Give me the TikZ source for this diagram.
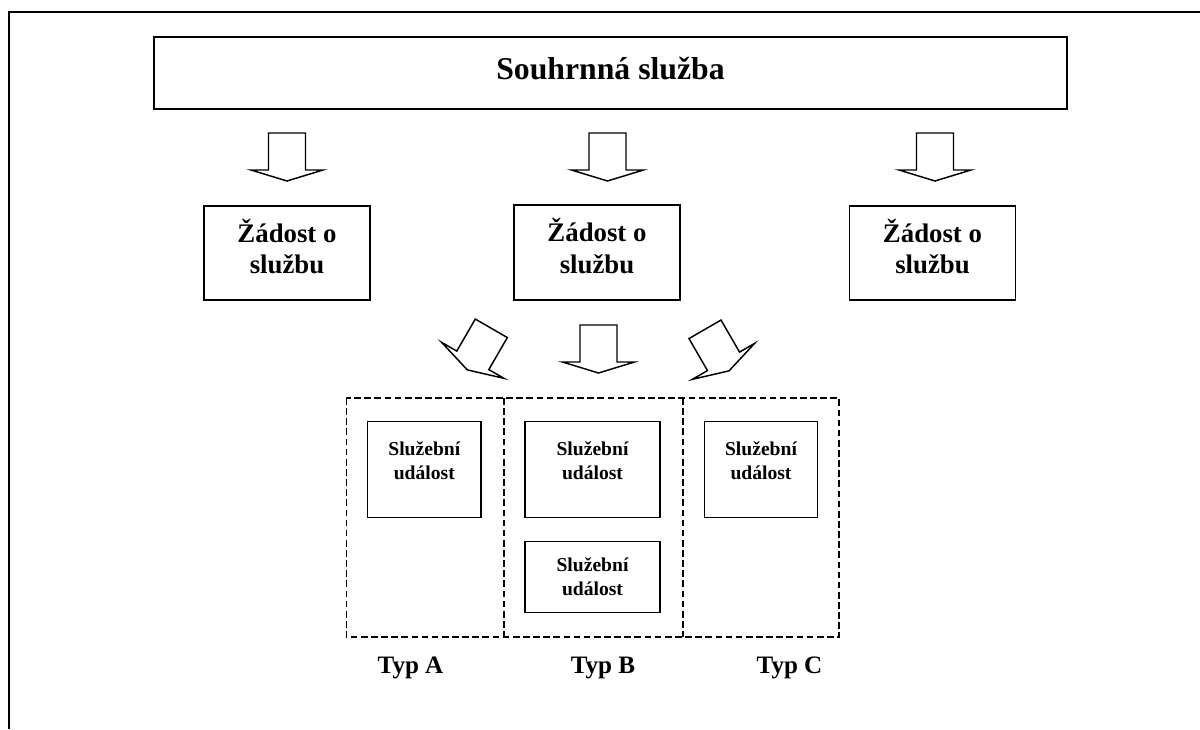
\documentclass[tikz,border=0pt]{standalone}
\usepackage{fontspec}
\setmainfont{Liberation Serif}
\begin{document}
\begin{tikzpicture}[x=0.75pt,y=-0.75pt]

\tikzset{box/.style = {shape=rectangle,draw,line width=0.9pt,inner sep=0pt,align=center}}
\tikzset{group/.style = {shape=rectangle,inner sep=0pt,minimum height=178.8pt}}
\tikzset{dashline/.style = {line width=1.4pt,dash pattern=on 5pt off 2.6pt}}
\tikzset{typ/.style = {anchor=base,font=\fontsize{18.8}{22}\selectfont\bfseries}}
\tikzset{blockarrow/.pic = {\draw[line width=1.1pt] (-18.5,0) -- (18.5,0) -- (18.5,37) -- (36,37) -- (0,48) -- (-36,37) -- (-18.5,37) -- cycle;}}

\useasboundingbox (0,0) rectangle (1200,729);
%frame
\draw[line width=1.5pt] (9,729) -- (9,12) -- (1200,12);

%top
\node[box, minimum width=684.75pt, minimum height=54pt, text height=17pt, text depth=8pt,
  font=\fontsize{23.8}{27}\selectfont\bfseries] (souhrn) at (610.5,73) {Souhrnná služba};

%requests
\node[box, minimum width=124.5pt, minimum height=70.5pt, text depth=10pt, font=\fontsize{20.1}{23.8}\selectfont\bfseries] (zad1) at (287,253) {Žádost o\\službu};
\node[box, minimum width=124.5pt, minimum height=71.2pt, text depth=10pt, font=\fontsize{20.1}{23.8}\selectfont\bfseries] (zad2) at (597,252.5) {Žádost o\\službu};
\node[box, minimum width=124.5pt, minimum height=70.5pt, text depth=10pt, font=\fontsize{20.1}{23.8}\selectfont\bfseries] (zad3) at (932.5,253) {Žádost o\\službu};

%arrows
\pic at (287,133) {blockarrow};
\pic at (607.5,133) {blockarrow};
\pic at (935,133) {blockarrow};
\pic[rotate=-30] at (491.3,328.3) {blockarrow};
\pic at (598.5,325) {blockarrow};
\pic[rotate=30] at (705,329.3) {blockarrow};

%types
\node[group, minimum width=117.45pt] (typA) at (425,517.5) {};
\node[group, minimum width=134.25pt] (typB) at (592.8,517.5) {};
\node[group, minimum width=117.5pt] (typC) at (760.65,517.5) {};
\draw[dashline] (typA.north west) rectangle (typC.south east);
\draw[dashline] (typA.north east) -- (typA.south east);
\draw[dashline] (typB.north east) -- (typB.south east);

%events
\node[box, minimum width=85pt, minimum height=71.7pt, text depth=14pt, font=\fontsize{14.7}{18}\selectfont\bfseries] (udA) at (424.3,469.5) {Služební\\událost};
\node[box, minimum width=101.25pt, minimum height=71.7pt, text depth=14pt, font=\fontsize{14.7}{18}\selectfont\bfseries] (udB1) at (592.5,469.5) {Služební\\událost};
\node[box, minimum width=101.25pt, minimum height=53pt, font=\fontsize{14.7}{18}\selectfont\bfseries] (udB2) at (592.5,577) {Služební\\událost};
\node[box, minimum width=85pt, minimum height=71.7pt, text depth=14pt, font=\fontsize{14.7}{18}\selectfont\bfseries] (udC) at (761,469.5) {Služební\\událost};

%labels
\node[typ] (lblA) at (410.5,673) {Typ A};
\node[typ] (lblB) at (603,673) {Typ B};
\node[typ] (lblC) at (789.5,673) {Typ C};

\end{tikzpicture}
\end{document}
